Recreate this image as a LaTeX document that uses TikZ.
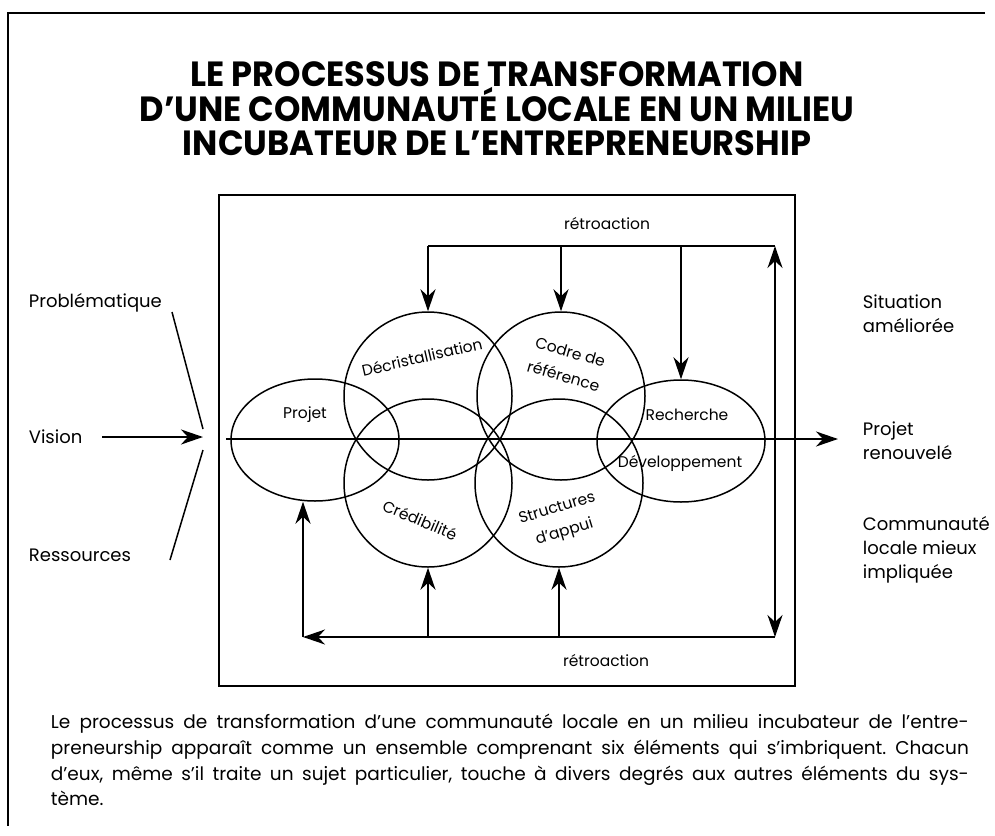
\documentclass[tikz,border=0pt]{standalone}
\usepackage{fontspec}
\setmainfont{Poppins}
\newfontfamily\titlefont{Poppins}[FakeStretch=0.96]
\usetikzlibrary{arrows.meta,shapes.geometric}
\tikzset{
  arr/.style={-{Stealth[length=22pt,width=15pt,inset=7pt]}},
  darr/.style={{Stealth[length=22pt,width=15pt,inset=7pt]}-{Stealth[length=22pt,width=15pt,inset=7pt]}},
  ring/.style={draw,circle,minimum size=168pt,inner sep=0pt,line width=1.5pt},
  oval/.style={draw,ellipse,minimum width=168pt,minimum height=122pt,inner sep=0pt,line width=1.5pt},
  lab/.style={font=\fontsize{18}{24}\selectfont,align=left,inner sep=0pt},
  inlab/.style={font=\fontsize{15.5}{25}\selectfont,align=center,inner sep=0pt},
  ttl/.style={font=\titlefont\bfseries\fontsize{35}{40}\selectfont,inner sep=0pt,anchor=base},
  captxt/.style={font=\fontsize{18.5}{26}\selectfont\frenchspacing,inner sep=0pt,anchor=base west},
}
\begin{document}
\begin{tikzpicture}[x=1pt,y=-1pt,line width=1.8pt]
\useasboundingbox (0,0) rectangle (995,835);
% outer frame
\draw[line width=1.5pt] (985,13) -- (8,13) -- (8,826);
% title
\node[ttl] (t1) at (497,86) {LE PROCESSUS DE TRANSFORMATION};
\node[ttl] (t2) at (497,121) {D’UNE COMMUNAUTÉ LOCALE EN UN MILIEU};
\node[ttl] (t3) at (497,155) {INCUBATEUR DE L’ENTREPRENEURSHIP};
% inner box
\draw[line width=1.6pt] (219,195) rectangle (795,686);
% circles
\node[oval] (projet) at (315,440) {};
\node[ring] (decr) at (428,396) {};
\node[ring] (codre) at (561,396) {};
\node[ring] (cred) at (428,483) {};
\node[ring] (struct) at (559,483) {};
\node[oval] (rech) at (681,441) {};
% circle labels
\node[inlab] (lprojet) at (305,415) {Projet};
\node[inlab,rotate=13] (ldecr) at (422,357) {Décristallisation};
\node[inlab,rotate=-23] (lcred) at (420,520) {Crédibilité};
\node[inlab,rotate=-16] (lcodre) at (567,364) {Codre de\\référence};
\node[inlab,rotate=17] (lstruct) at (561,521) {Structures\\d’appui};
\node[inlab] (lrech) at (687,415) {Recherche};
\node[inlab] (ldev) at (680,463) {Développement};
% main axis
\coordinate (axs) at (226,439);
\coordinate (axe) at (838,439);
\draw[arr,line width=2.6pt] (axs) -- (axe);
% left labels
\node[lab,anchor=west] (prob) at (28,303) {Problématique};
\node[lab,anchor=west] (vis) at (28,437) {Vision};
\node[lab,anchor=west] (res) at (28,555) {Ressources};
\coordinate (vtip) at (203,437);
\coordinate (vstart) at (102,437);
\coordinate (p1) at (172,312);
\coordinate (p2) at (203,429);
\coordinate (r1) at (203,450);
\coordinate (r2) at (170,560);
\draw[arr,line width=2.6pt] (vstart) -- (vtip);
\draw[line width=1.5pt] (p1) -- (p2);
\draw[line width=1.5pt] (r1) -- (r2);
% right labels
\node[lab,anchor=west] (sit) at (862,314) {Situation\\améliorée};
\node[lab,anchor=west] (pren) at (862,441) {Projet\\renouvelé};
\node[lab,anchor=west] (comm) at (862,550) {Communauté\\locale mieux\\impliquée};
% top feedback
\coordinate (tl) at (428,246);
\coordinate (tr) at (775,246);
\draw (tl) -- (tr);
\draw[arr] (tl) -- (decr.north);
\draw[arr] (codre.north |- tl) -- (codre.north);
\draw[arr] (rech.north |- tl) -- (rech.north);
\node[inlab] (rt1) at (607,224) {rétroaction};
% right vertical and bottom feedback
\coordinate (br) at (775,637);
\coordinate (bl) at (303,637);
\draw[darr] (br) -- (tr);
\draw[arr] (br) -- (bl);
\draw[arr] (bl) -- (bl |- projet.south);
\draw[arr] (cred.south |- br) -- (cred.south);
\draw[arr] (struct.south |- br) -- (struct.south);
\node[inlab] (rt2) at (606,660) {rétroaction};
% caption
\node[captxt] (c1) at (50,728) {\makebox[918pt][s]{Le processus de transformation d’une communauté locale en un milieu incubateur de l’entre-}};
\node[captxt] (c2) at (50,754) {\makebox[918pt][s]{preneurship apparaît comme un ensemble comprenant six éléments qui s’imbriquent. Chacun}};
\node[captxt] (c3) at (50,780) {\makebox[918pt][s]{d’eux, même s’il traite un sujet particulier, touche à divers degrés aux autres éléments du sys-}};
\node[captxt] (c4) at (50,805) {tème.};
\end{tikzpicture}
\end{document}
